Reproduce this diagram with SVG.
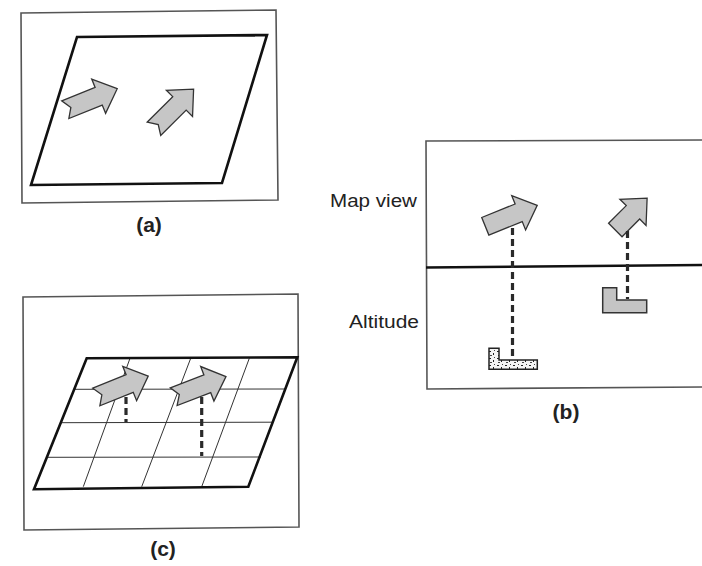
<svg xmlns="http://www.w3.org/2000/svg" xmlns:xlink="http://www.w3.org/1999/xlink" width="702" height="566" viewBox="0 0 702 566">
<style>
.frame{fill:none;stroke:#555;stroke-width:1.6}
.plane{fill:none;stroke:#111;stroke-width:2.6;stroke-linejoin:miter}
.grid{fill:none;stroke:#333;stroke-width:1}
.arrow{fill:#c6c6c6;stroke:#333;stroke-width:1.3;stroke-linejoin:miter}
.dash{fill:none;stroke:#2a2a2a;stroke-width:3.2;stroke-dasharray:7 4}
.label{font-family:"Liberation Sans",Arial,sans-serif;font-size:17.5px;fill:#222}
.cap{font-family:"Liberation Sans",Arial,sans-serif;font-size:21px;font-weight:bold;fill:#222;text-anchor:middle}
.blk{fill:#c4c4c4;stroke:#333;stroke-width:1.5}
.spk{fill:url(#speck);stroke:#222;stroke-width:1.5}
</style>
<defs>
<path id="arrN" d="M0,-9.5 L36,-9.5 L36,-18.5 L56,0 L36,18.5 L36,9.5 L0,9.5 L6,0 Z"/>
<path id="arrF" d="M0,-9.5 L36,-9.5 L36,-18.5 L56,0 L36,18.5 L36,9.5 L0,9.5 Z"/>
<path id="arrS" d="M0,-9.5 L25,-9.5 L25,-18.5 L45,0 L25,18.5 L25,9.5 L0,9.5 Z"/>
<pattern id="speck" width="8" height="7" patternUnits="userSpaceOnUse">
<rect width="8" height="7" fill="#f4f4f4"/>
<rect x="1" y="1" width="2" height="1" fill="#222"/>
<rect x="5" y="3" width="1" height="2" fill="#222"/>
<rect x="2" y="5" width="2" height="1" fill="#444"/>
<rect x="6" y="0" width="1" height="1" fill="#444"/>
</pattern>
</defs>

<g id="panel-a">
<polygon class="frame" points="21,13 276,10 278,200 22,203"/>
<polygon class="plane" points="77,37 267,35 222,183 31,185"/>
<use xlink:href="#arrN" class="arrow" transform="translate(65.3,109.7) rotate(-22)"/>
<use xlink:href="#arrN" class="arrow" transform="translate(154,128.8) rotate(-45)"/>
<text class="cap" x="149" y="232">(a)</text>
</g>

<g id="panel-b">
<polyline class="frame" points="702,140 426,141 427,389 702,387"/>
<line x1="426" y1="267.5" x2="702" y2="265" stroke="#111" stroke-width="2.4"/>
<text class="label" x="330" y="207" textLength="87" lengthAdjust="spacingAndGlyphs">Map view</text>
<text class="label" x="349" y="328" textLength="70" lengthAdjust="spacingAndGlyphs">Altitude</text>
<use xlink:href="#arrF" class="arrow" transform="translate(485.3,226.3) rotate(-22)"/>
<use xlink:href="#arrS" class="arrow" transform="translate(615.3,230) rotate(-45)"/>
<polygon class="blk" points="602.7,287.7 616.7,287.7 616.7,300 646.7,300 646.7,312.7 602.7,312.7"/>
<polygon class="spk" points="489,348.3 499,348.3 499,360 537.3,360 537.3,369.3 489,369.3"/>
<text class="cap" x="566" y="419">(b)</text>
</g>

<g id="panel-c">
<polygon class="frame" points="23,297 298,294 299,527 24,530"/>
<line class="grid" x1="74.2" y1="389.3" x2="285" y2="389"/>
<line class="grid" x1="61" y1="422.7" x2="273" y2="422.2"/>
<line class="grid" x1="47" y1="457.3" x2="261" y2="457"/>
<line class="grid" x1="130" y1="358.3" x2="83.3" y2="486.7"/>
<line class="grid" x1="190.7" y1="358.3" x2="141.7" y2="486.7"/>
<line class="grid" x1="249.3" y1="358.3" x2="201.7" y2="486.7"/>
<polygon class="plane" points="86.7,358.3 297.3,357.3 248.3,486.7 34,489.3"/>
<use xlink:href="#arrN" class="arrow" transform="translate(96.3,397) rotate(-22)"/>
<use xlink:href="#arrN" class="arrow" transform="translate(173.7,396.7) rotate(-21)"/>
<text class="cap" x="163" y="556">(c)</text>
</g>

<g id="connectors">
<line class="dash" x1="512.5" y1="228" x2="512.5" y2="359"/>
<line class="dash" x1="627.5" y1="231" x2="627.5" y2="299"/>
<line class="dash" x1="126" y1="397" x2="126" y2="422"/>
<line class="dash" x1="201.7" y1="397" x2="201.7" y2="456"/>
</g>
</svg>
